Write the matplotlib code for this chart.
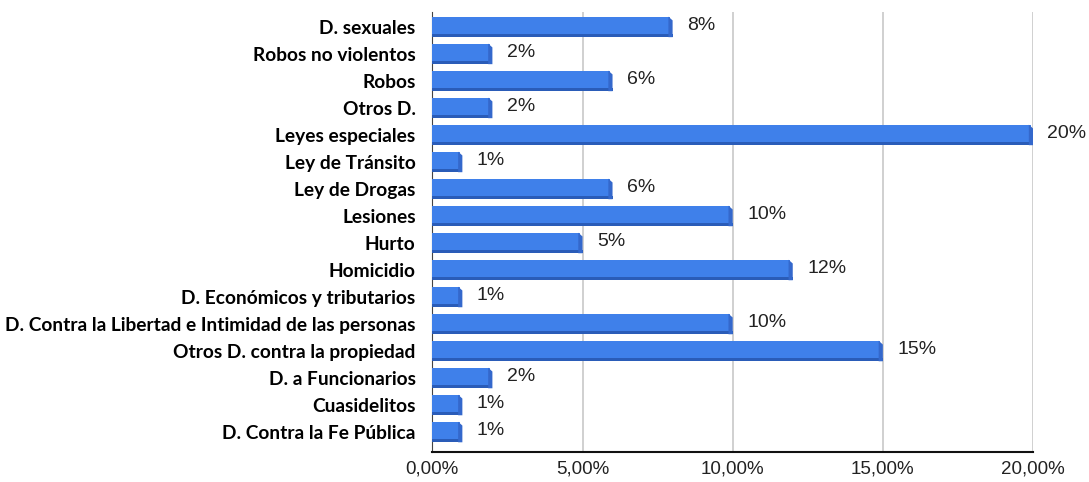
import matplotlib
matplotlib.use("Agg")
import matplotlib.pyplot as plt
from matplotlib.patches import Polygon, Rectangle
from matplotlib.ticker import FuncFormatter

categories = ["D. sexuales", "Robos no violentos", "Robos", "Otros D.", "Leyes especiales",
              "Ley de Tránsito", "Ley de Drogas", "Lesiones", "Hurto", "Homicidio",
              "D. Económicos y tributarios", "D. Contra la Libertad e Intimidad de las personas",
              "Otros D. contra la propiedad", "D. a Funcionarios", "Cuasidelitos",
              "D. Contra la Fe Pública"]
values = [8, 2, 6, 2, 20, 1, 6, 10, 5, 12, 1, 10, 15, 2, 1, 1]
xticks = [0, 5, 10, 15, 20]

fig = plt.figure(figsize=(10.89, 4.82), dpi=100)
ax = fig.add_axes([0.397, 0.0622, 0.9486 - 0.397, 0.975 - 0.0622])

n = len(categories)
ypos = [n - 1 - i for i in range(n)]
h = 0.76
face = "#3f80ea"
dark = "#2a5cb8"
cap = "#3468cc"

ax.barh(ypos, values, height=h, color=face, zorder=3, left=-0.08)
dx = 0.14
for y, v in zip(ypos, values):
    # darker bottom strip
    ax.add_patch(Rectangle((-0.08, y - h / 2), v + 0.08, 0.13, color=dark, zorder=4, lw=0))
    # slanted right cap
    ax.add_patch(Polygon([(v - dx, y + h / 2), (v, y + h / 2 - 0.14), (v, y - h / 2),
                          (v - dx, y - h / 2)], closed=True, color=cap, zorder=4, lw=0))
    ax.text(v + 0.48, y + 0.05, f"{v}%", va="center", ha="left", fontsize=14,
            family="Liberation Sans", color="#222222")

ax.set_xlim(0, 20)
ax.set_ylim(-0.74, n - 1 + 0.55)
ax.set_xticks(xticks)
ax.xaxis.set_major_formatter(FuncFormatter(lambda x, p: f"{x:.2f}%".replace(".", ",")))
ax.set_yticks(ypos)
ax.set_yticklabels(categories, fontsize=13.8, fontweight="bold", family="Lato")
for lab in ax.get_xticklabels():
    lab.set_family("Liberation Sans")
    lab.set_fontsize(13.5)
    lab.set_color("#222222")
ax.tick_params(axis="x", length=0, pad=6)
ax.tick_params(axis="y", length=0, pad=12)
ax.grid(axis="x", color="#c8c8c8", lw=1.2, zorder=0)
for s in ["top", "right"]:
    ax.spines[s].set_visible(False)
ax.spines["left"].set_color("#444444")
ax.spines["left"].set_linewidth(0.8)
ax.spines["bottom"].set_color("#111111")
ax.spines["bottom"].set_linewidth(1.5)
ax.set_axisbelow(True)

fig.savefig("out.png", dpi=100)
